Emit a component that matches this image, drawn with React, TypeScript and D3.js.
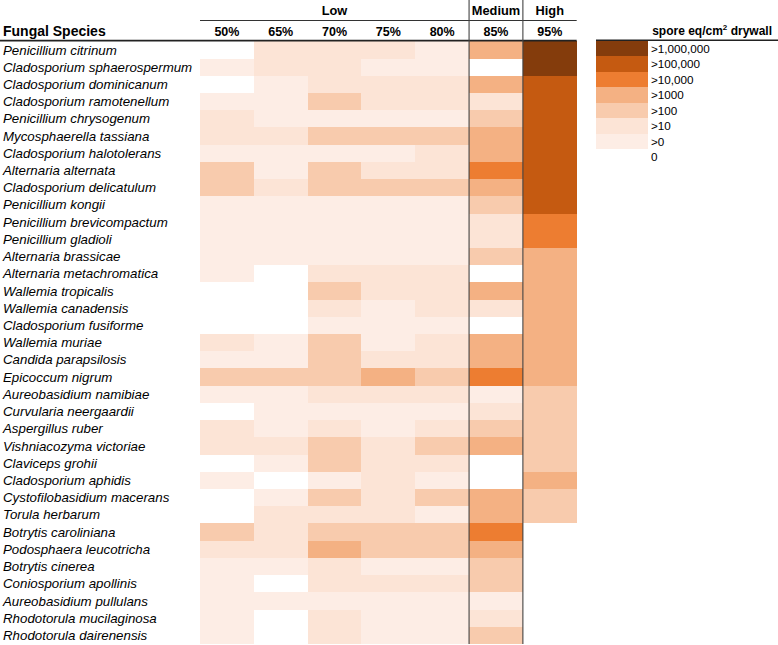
import React from "react";
import * as d3 from "d3";

const species = [
  "Penicillium citrinum",
  "Cladosporium sphaerospermum",
  "Cladosporium dominicanum",
  "Cladosporium ramotenellum",
  "Penicillium chrysogenum",
  "Mycosphaerella tassiana",
  "Cladosporium halotolerans",
  "Alternaria alternata",
  "Cladosporium delicatulum",
  "Penicillium kongii",
  "Penicillium brevicompactum",
  "Penicillium gladioli",
  "Alternaria brassicae",
  "Alternaria metachromatica",
  "Wallemia tropicalis",
  "Wallemia canadensis",
  "Cladosporium fusiforme",
  "Wallemia muriae",
  "Candida parapsilosis",
  "Epicoccum nigrum",
  "Aureobasidium namibiae",
  "Curvularia neergaardii",
  "Aspergillus ruber",
  "Vishniacozyma victoriae",
  "Claviceps grohii",
  "Cladosporium aphidis",
  "Cystofilobasidium macerans",
  "Torula herbarum",
  "Botrytis caroliniana",
  "Podosphaera leucotricha",
  "Botrytis cinerea",
  "Coniosporium apollinis",
  "Aureobasidium pullulans",
  "Rhodotorula mucilaginosa",
  "Rhodotorula dairenensis",
];

const columns = ["50%", "65%", "70%", "75%", "80%", "85%", "95%"];
const groups = [
  { name: "Low", from: "50%", to: "80%" },
  { name: "Medium", from: "85%", to: "85%" },
  { name: "High", from: "95%", to: "95%" },
];

// level index: 0 = 0, 1 = >0, 2 = >10, 3 = >100, 4 = >1000, 5 = >10,000, 6 = >100,000, 7 = >1,000,000
const level50 = [0,1,0,1,2,2,1,3,3,1,1,1,1,1,0,0,0,2,1,3,1,0,2,2,0,1,0,0,3,2,1,1,1,1,1];
const level65 = [2,2,1,1,1,2,1,1,2,1,1,1,1,0,0,0,0,1,1,3,1,1,1,2,1,0,1,2,2,2,1,0,1,0,0];
const level70 = [2,2,2,3,1,3,1,3,3,1,1,1,1,2,3,2,1,3,3,3,2,1,2,3,3,1,3,2,3,4,2,2,1,2,2];
const level75 = [2,1,2,2,1,3,1,2,3,1,1,1,1,2,2,1,1,1,2,4,2,1,1,2,2,2,2,2,3,3,1,2,1,1,1];
const level80 = [1,1,2,2,1,3,2,2,3,1,1,1,1,2,2,2,1,2,2,3,2,1,2,3,2,1,3,1,3,3,1,2,1,1,1];
const level85 = [4,0,4,2,3,4,4,5,4,3,2,2,3,0,4,2,0,4,4,5,1,2,3,4,0,0,4,4,5,4,3,3,1,2,3];
const level95 = [7,7,6,6,6,6,6,6,6,6,5,5,4,4,4,4,4,4,4,4,3,3,3,3,3,4,3,3,0,0,0,0,0,0,0];

const levelColumns = [level50, level65, level70, level75, level80, level85, level95];

const legendLabels = [">1,000,000", ">100,000", ">10,000", ">1000", ">100", ">10", ">0", "0"];
const legendLevels = [7, 6, 5, 4, 3, 2, 1, 0];
const levelColors = ["#FFFFFF", "#FDEDE5", "#FCE4D6", "#F8CBAD", "#F4B183", "#ED7D31", "#C55A11", "#843C0C"];

const W = 778;
const H = 645;
const FONT = "'Liberation Sans', Arial, sans-serif";

export default function App() {
  const x = d3.scaleBand<string>().domain(columns).range([200, 576.7]).padding(0);
  const y = d3.scaleBand<string>().domain(species).range([41.3, 644]).padding(0);
  const color = d3.scaleOrdinal<number, string>().domain(d3.range(8)).range(levelColors);
  const ly = d3.scaleBand<string>().domain(legendLabels).range([41, 41 + 15.47 * 8]).padding(0);

  const cells: { s: string; c: string; v: number }[] = [];
  species.forEach((s, i) => {
    columns.forEach((c, j) => {
      cells.push({ s, c, v: levelColumns[j][i] });
    });
  });

  const medX = x("85%")!;
  const highX = x("95%")!;
  const gridRight = x("95%")! + x.bandwidth();

  return (
    <svg
      width={W}
      height={H}
      style={{ position: "absolute", left: 0, top: 0, background: "#fff" }}
      fontFamily={FONT}
    >
      <rect x={0} y={0} width={W} height={H} fill="#fff" />
      <g shapeRendering="crispEdges">
        {cells.map((d, k) => (
          <rect
            key={k}
            x={x(d.c)!}
            y={y(d.s)!}
            width={x.bandwidth() + 0.3}
            height={y.bandwidth() + 0.3}
            fill={color(d.v)}
          />
        ))}
      </g>

      {/* group headers */}
      {groups.map((g) => {
        const x0 = x(g.from)!;
        const x1 = x(g.to)! + x.bandwidth();
        return (
          <text
            key={g.name}
            x={(x0 + x1) / 2}
            y={15}
            textAnchor="middle"
            fontWeight="bold"
            fontSize={12.8}
            fill="#000"
          >
            {g.name}
          </text>
        );
      })}
      <line x1={200} x2={gridRight} y1={20.5} y2={20.5} stroke="#333" strokeWidth={1} />

      {/* column headers */}
      {columns.map((c) => (
        <text
          key={c}
          x={x(c)! + x.bandwidth() / 2}
          y={35.5}
          textAnchor="middle"
          fontWeight="bold"
          fontSize={12.5}
          fill="#000"
        >
          {c}
        </text>
      ))}

      <text x={3} y={35.5} fontWeight="bold" fontSize={14} fill="#000">
        Fungal Species
      </text>
      <line x1={0} x2={gridRight} y1={40.6} y2={40.6} stroke="#222" strokeWidth={1.8} />

      {/* species labels */}
      {species.map((s) => (
        <text
          key={s}
          x={3}
          y={y(s)! + y.bandwidth() / 2 + 4.6}
          fontStyle="italic"
          fontSize={13.3}
          fill="#000"
        >
          {s}
        </text>
      ))}

      {/* vertical separators */}
      <line x1={medX} x2={medX} y1={0} y2={644} stroke="#444" strokeWidth={1.1} />
      <line x1={highX} x2={highX} y1={0} y2={644} stroke="#444" strokeWidth={1.1} />

      {/* legend */}
      <text x={772} y={34.5} textAnchor="end" fontWeight="bold" fontSize={12} fill="#000">
        spore eq/cm
        <tspan fontSize={8} dy={-5}>2</tspan>
        <tspan dy={5}> drywall</tspan>
      </text>
      <line x1={596} x2={778} y1={40.3} y2={40.3} stroke="#222" strokeWidth={1.6} />
      {legendLabels.map((lab, i) => (
        <g key={lab}>
          <rect
            x={596}
            y={ly(lab)!}
            width={52}
            height={ly.bandwidth() + 0.3}
            fill={color(legendLevels[i])}
            shapeRendering="crispEdges"
          />
          <text x={651} y={ly(lab)! + ly.bandwidth() / 2 + 4.2} fontSize={11.7} fill="#000">
            {lab}
          </text>
        </g>
      ))}
    </svg>
  );
}
